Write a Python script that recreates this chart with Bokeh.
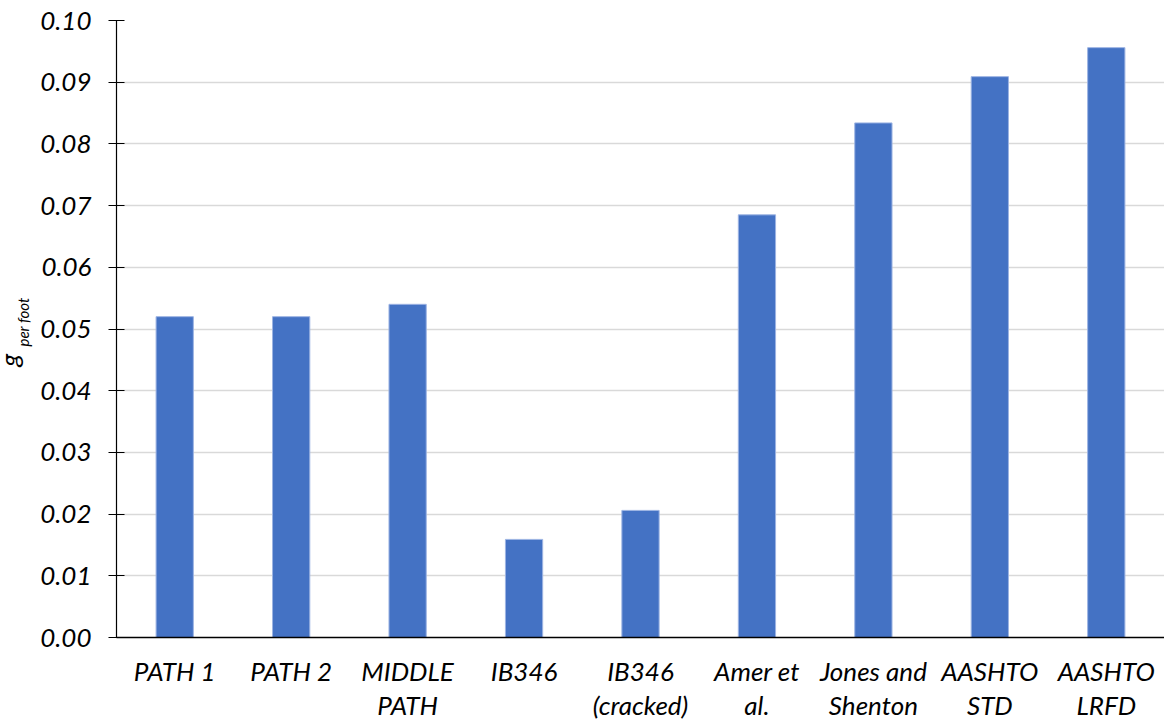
import math
from bokeh.plotting import figure
from bokeh.layouts import row, column
from bokeh.models import (FactorRange, FixedTicker, Label,
                          NumeralTickFormatter, ColumnDataSource)
from bokeh.core.properties import value
from bokeh.embed import file_html
from bokeh.resources import INLINE

categories = ["PATH 1", "PATH 2", "MIDDLE PATH", "IB346", "IB346 (cracked)",
              "Amer et al.", "Jones and Shenton", "AASHTO STD", "AASHTO LRFD"]
label_line1 = ["PATH 1", "PATH 2", "MIDDLE", "IB346", "IB346",
               "Amer et", "Jones and", "AASHTO", "AASHTO"]
label_line2 = ["", "", "PATH", "", "(cracked)", "al.", "Shenton", "STD", "LRFD"]
values = [0.0520, 0.0520, 0.0540, 0.0159, 0.0206, 0.0685, 0.0834, 0.0909, 0.0956]
y_ticks = [0.00, 0.01, 0.02, 0.03, 0.04, 0.05, 0.06, 0.07, 0.08, 0.09, 0.10]
y_title = "g"
y_title_sub = "per foot"

FONT = "Lato"
H_MAIN, H_BOTTOM, W_TITLE, W_MAIN = 652, 70, 37, 1127
src = ColumnDataSource(dict(cat=categories, val=values, l1=label_line1, l2=label_line2))

# ---- main chart ----
p = figure(x_range=FactorRange(*categories, range_padding=0), y_range=(0, 0.10),
           width=W_MAIN, height=H_MAIN, output_backend="svg", toolbar_location=None,
           min_border_left=78, min_border_right=0, min_border_top=20, min_border_bottom=15)

p.vbar(x="cat", top="val", width=0.32, source=src, fill_color="#4472C4",
       line_color="#9db4e3", line_width=1)

p.outline_line_color = None
p.xgrid.grid_line_color = None
p.ygrid.grid_line_color = "#d9d9d9"
p.ygrid.grid_line_width = 1.5

p.yaxis.ticker = FixedTicker(ticks=y_ticks)
p.yaxis.formatter = NumeralTickFormatter(format="0.00")
p.yaxis.axis_line_color = "black"
p.yaxis.axis_line_width = 1.2
p.yaxis.major_tick_line_color = "black"
p.yaxis.major_tick_line_width = 1.2
p.yaxis.major_tick_out = 8
p.yaxis.major_tick_in = 8
p.yaxis.minor_tick_line_color = None
p.yaxis.major_label_standoff = 17
p.yaxis.major_label_text_font = FONT
p.yaxis.major_label_text_font_style = "italic"
p.yaxis.major_label_text_font_size = "26px"
p.yaxis.major_label_text_color = "black"

p.xaxis.axis_line_color = "black"
p.xaxis.axis_line_width = 1.5
p.xaxis.major_tick_line_color = None
p.xaxis.minor_tick_line_color = None
p.xaxis.major_tick_out = 0
p.xaxis.major_tick_in = 0
p.xaxis.major_label_standoff = 0
p.xaxis.major_label_text_font_size = "0px"
p.xaxis.major_label_text_color = None

# ---- category labels panel (two lines per category) ----
b = figure(x_range=p.x_range, y_range=(0, H_BOTTOM), width=W_MAIN, height=H_BOTTOM,
           output_backend="svg", toolbar_location=None,
           min_border_left=78, min_border_right=0, min_border_top=0, min_border_bottom=0,
           outline_line_color=None)
b.axis.visible = False
b.grid.visible = False
for field, yy in (("l1", 52), ("l2", 18)):
    b.text(x="cat", y=yy, text=field, source=src, text_font=value(FONT),
           text_font_style="italic", text_font_size="26px", text_color="black",
           text_align="center", text_baseline="alphabetic")

# ---- y axis title panel ----
H = H_MAIN + H_BOTTOM
t = figure(x_range=(0, W_TITLE), y_range=(0, H), width=W_TITLE, height=H,
           output_backend="svg", toolbar_location=None,
           min_border=0, outline_line_color=None)
t.axis.visible = False
t.grid.visible = False
t.add_layout(Label(x=8, y=H - 366, x_units="screen", y_units="screen", text=y_title,
                   angle=math.pi / 2, text_font=FONT, text_font_style="italic",
                   text_font_size="26px", text_color="black",
                   text_align="left", text_baseline="alphabetic"))
t.add_layout(Label(x=22, y=H - 346, x_units="screen", y_units="screen", text=y_title_sub,
                   angle=math.pi / 2, text_font=FONT, text_font_style="italic",
                   text_font_size="15px", text_color="black",
                   text_align="left", text_baseline="alphabetic"))

layout = row(t, column(p, b, spacing=0), spacing=0)
open("out.html", "w").write(file_html(layout, INLINE))
